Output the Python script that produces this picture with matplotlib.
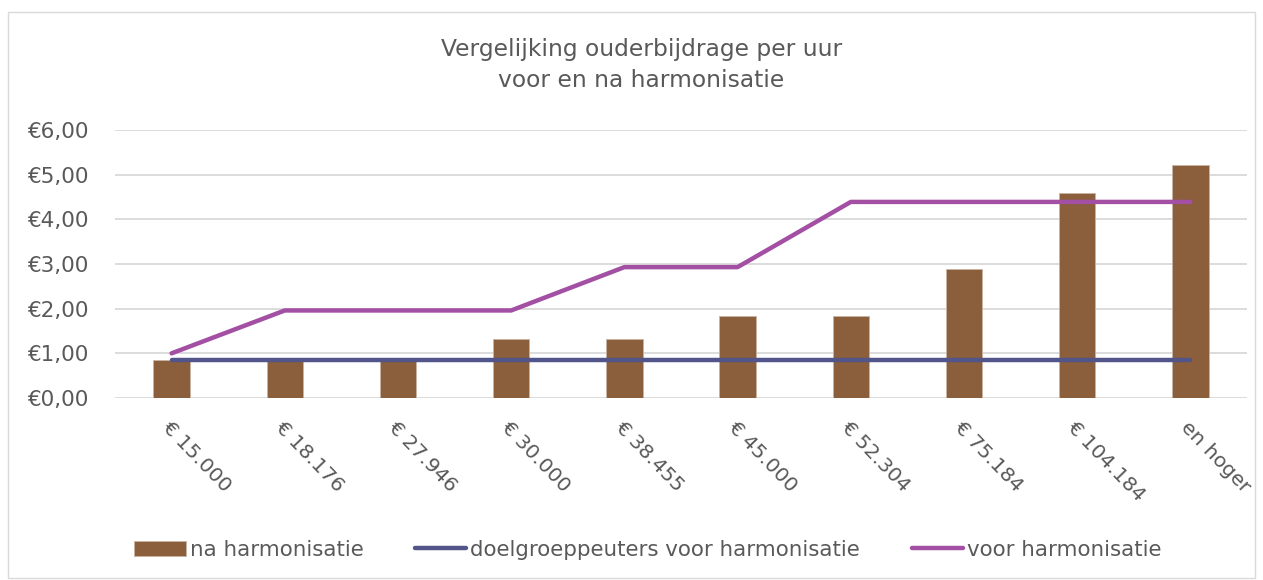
import numpy as np
import matplotlib.pyplot as plt
from matplotlib.patches import Rectangle

categories = ['€ 15.000', '€ 18.176', '€ 27.946', '€ 30.000', '€ 38.455',
              '€ 45.000', '€ 52.304', '€ 75.184', '€ 104.184', 'en hoger']
na_harmonisatie = [0.86, 0.86, 0.86, 1.33, 1.33, 1.83, 1.83, 2.89, 4.59, 5.22]
doelgroep_voor = [0.85, 0.85, 0.85, 0.85, 0.85, 0.85, 0.85, 0.85, 0.85, 0.85]
voor_harmonisatie = [1.00, 1.96, 1.96, 1.96, 2.93, 2.93, 4.39, 4.39, 4.39, 4.39]
yticks = [0, 1, 2, 3, 4, 5, 6]

txt = '#595959'
plt.rcParams['font.family'] = 'DejaVu Sans'

fig = plt.figure(figsize=(12.63, 5.80), dpi=100)
fig.patches.append(Rectangle((0.006, 0.004), 0.988, 0.975, transform=fig.transFigure,
                             fill=False, edgecolor='#d9d9d9', linewidth=1))

ax = fig.add_axes([115 / 1263, 1 - 398 / 580, 1132 / 1263, 268 / 580])
x = np.arange(len(categories))

bars = ax.bar(x, na_harmonisatie, width=0.32, color='#8b5e3c', edgecolor='#c9b3a3',
              linewidth=0.6, label='na harmonisatie', zorder=2)
l1, = ax.plot(x, doelgroep_voor, color='#525589', linewidth=3.2, solid_capstyle='round',
              label='doelgroeppeuters voor harmonisatie', zorder=3)
l2, = ax.plot(x, voor_harmonisatie, color='#a34fa3', linewidth=3.2, solid_capstyle='round',
              label='voor harmonisatie', zorder=3)

ax.set_xlim(-0.5, len(categories) - 0.5)
ax.set_ylim(0, 6)
ax.set_yticks(yticks)
ax.set_yticklabels(['€%d,00' % v for v in yticks], color=txt, fontsize=15.5)
ax.yaxis.grid(True, color='#d9d9d9', linewidth=1.3, zorder=0)
ax.set_axisbelow(True)
ax.tick_params(axis='y', length=0, pad=19)
ax.tick_params(axis='x', length=0, pad=14)
ax.set_xticks(x)
ax.set_xticklabels(categories, rotation=-46, ha='left', va='top',
                   rotation_mode='anchor', color=txt, fontsize=14.6)
for s in ax.spines.values():
    s.set_visible(False)

fig.text(0.508, 0.888, 'Vergelijking ouderbijdrage per uur\nvoor en na harmonisatie',
         ha='center', va='center', fontsize=16.8, color=txt, linespacing=1.45)

fig.legend([bars, l1, l2], [bars.get_label(), l1.get_label(), l2.get_label()],
           loc='center', bbox_to_anchor=(0.513, 0.052), ncol=3, frameon=False,
           fontsize=15.4, labelcolor=txt, handlelength=2.4, handletextpad=0.2,
           columnspacing=2.4)

fig.savefig('out.png', dpi=100)
